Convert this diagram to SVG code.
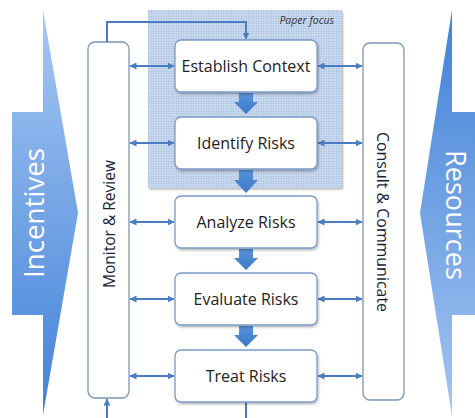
<svg xmlns="http://www.w3.org/2000/svg" width="475" height="418" viewBox="0 0 475 418">
  <defs>
    <linearGradient id="gradIn" x1="0" y1="0" x2="0" y2="1">
      <stop offset="0" stop-color="#a6c7f2"/>
      <stop offset="1" stop-color="#4282d9"/>
    </linearGradient>
    <linearGradient id="gradRes" x1="0" y1="0" x2="0" y2="1">
      <stop offset="0" stop-color="#4282d6"/>
      <stop offset="1" stop-color="#a3c5f2"/>
    </linearGradient>
    <linearGradient id="gradStep" x1="0" y1="0" x2="0" y2="1">
      <stop offset="0" stop-color="#5a93d8"/>
      <stop offset="1" stop-color="#3a78c8"/>
    </linearGradient>
    <pattern id="dots" width="2.5" height="2.5" patternUnits="userSpaceOnUse">
      <rect width="2.5" height="2.5" fill="#c9d9ee"/>
      <circle cx="1.25" cy="1.25" r="0.65" fill="#97b2d9"/>
    </pattern>
    <filter id="shadow" x="-10%" y="-10%" width="125%" height="130%">
      <feDropShadow dx="1" dy="1.5" stdDeviation="1" flood-color="#000" flood-opacity="0.3"/>
    </filter>
    <marker id="head" viewBox="0 0 7 7" markerWidth="7" markerHeight="7" refX="6.5" refY="3.5" orient="auto-start-reverse" markerUnits="userSpaceOnUse">
      <path d="M0,0 L7,3.5 L0,7 Z" fill="#4a7cc2"/>
    </marker>
  </defs>
  <style>
    .side { font-family: "Open Sans", "Liberation Sans", sans-serif; font-size: 27px; fill: #ffffff; text-anchor: middle; }
    .col { fill: #ffffff; stroke: #7c95b8; stroke-width: 1.3; }
    .colText { font-family: "Open Sans", "Liberation Sans", sans-serif; font-size: 16px; fill: #17223c; text-anchor: middle; }
    .box { fill: #ffffff; stroke: #7a9cc8; stroke-width: 1.3; filter: url(#shadow); }
    .label { font-family: "Open Sans", "Liberation Sans", sans-serif; font-size: 16px; fill: #222222; text-anchor: middle; }
    .link { fill: none; stroke: #4a7cc2; stroke-width: 2; }
    .step { fill: url(#gradStep); }
  </style>

  <!-- Side drivers -->
  <g id="incentives">
    <path d="M12,112 H43 V10 L78,213 L43,415 V315 H12 Z" fill="url(#gradIn)"/>
    <text class="side" transform="translate(34,213) rotate(-90)" y="10" textLength="130" lengthAdjust="spacingAndGlyphs">Incentives</text>
  </g>
  <g id="resources">
    <path d="M480,112 H452 V10 L420,213 L452,416 V315 H480 Z" fill="url(#gradRes)"/>
    <text class="side" transform="translate(456,215) rotate(90)" y="10" textLength="130" lengthAdjust="spacingAndGlyphs">Resources</text>
  </g>

  <!-- Paper focus area -->
  <g id="paper-focus">
    <rect x="148" y="10" width="194" height="178" fill="url(#dots)" filter="url(#shadow)"/>
    <text x="334" y="24" font-family="'Open Sans', 'Liberation Sans', sans-serif" font-size="10.5" font-style="italic" fill="#333333" text-anchor="end">Paper focus</text>
  </g>

  <!-- Side columns -->
  <g id="monitor-review">
    <rect class="col" x="88" y="42" width="41" height="356" rx="7"/>
    <text class="colText" transform="translate(109,224) rotate(-90)" y="6" textLength="128" lengthAdjust="spacingAndGlyphs">Monitor &amp; Review</text>
  </g>
  <g id="consult-communicate">
    <rect class="col" x="363" y="43" width="41" height="357" rx="7"/>
    <text class="colText" transform="translate(383,222) rotate(90)" y="6" textLength="180" lengthAdjust="spacingAndGlyphs">Consult &amp; Communicate</text>
  </g>

  <!-- Connectors -->
  <g id="connectors">
    <!-- feedback loops -->
    <path class="link" d="M107,42 V22 H246 V39" marker-end="url(#head)"/>
    <path class="link" d="M246,402 V425 H107 V399" marker-end="url(#head)"/>
    <!-- links to monitor & review -->
    <path class="link" d="M130,66 H174" marker-start="url(#head)" marker-end="url(#head)"/>
    <path class="link" d="M130,143 H174" marker-start="url(#head)" marker-end="url(#head)"/>
    <path class="link" d="M130,222 H174" marker-start="url(#head)" marker-end="url(#head)"/>
    <path class="link" d="M130,299 H174" marker-start="url(#head)" marker-end="url(#head)"/>
    <path class="link" d="M130,376 H174" marker-start="url(#head)" marker-end="url(#head)"/>
    <!-- links to consult & communicate -->
    <path class="link" d="M318,66 H362" marker-start="url(#head)" marker-end="url(#head)"/>
    <path class="link" d="M318,143 H362" marker-start="url(#head)" marker-end="url(#head)"/>
    <path class="link" d="M318,222 H362" marker-start="url(#head)" marker-end="url(#head)"/>
    <path class="link" d="M318,299 H362" marker-start="url(#head)" marker-end="url(#head)"/>
    <path class="link" d="M318,376 H362" marker-start="url(#head)" marker-end="url(#head)"/>
    <!-- process flow -->
    <path class="step" d="M239,93 H253 V102 H258 L246,114 L234,102 H239 Z"/>
    <path class="step" d="M239,170 H253 V180 H258 L246,193 L234,180 H239 Z"/>
    <path class="step" d="M239,249 H253 V258 H258 L246,270 L234,258 H239 Z"/>
    <path class="step" d="M239,326 H253 V335 H258 L246,347 L234,335 H239 Z"/>
  </g>

  <!-- Process steps -->
  <g id="establish-context">
    <rect class="box" x="175" y="40" width="142" height="52" rx="6"/>
    <text class="label" x="246" y="72">Establish Context</text>
  </g>
  <g id="identify-risks">
    <rect class="box" x="175" y="117" width="142" height="52" rx="6"/>
    <text class="label" x="246" y="149">Identify Risks</text>
  </g>
  <g id="analyze-risks">
    <rect class="box" x="175" y="196" width="142" height="52" rx="6"/>
    <text class="label" x="246" y="228">Analyze Risks</text>
  </g>
  <g id="evaluate-risks">
    <rect class="box" x="175" y="273" width="142" height="52" rx="6"/>
    <text class="label" x="246" y="305">Evaluate Risks</text>
  </g>
  <g id="treat-risks">
    <rect class="box" x="175" y="350" width="142" height="52" rx="6"/>
    <text class="label" x="246" y="382">Treat Risks</text>
  </g>
</svg>
